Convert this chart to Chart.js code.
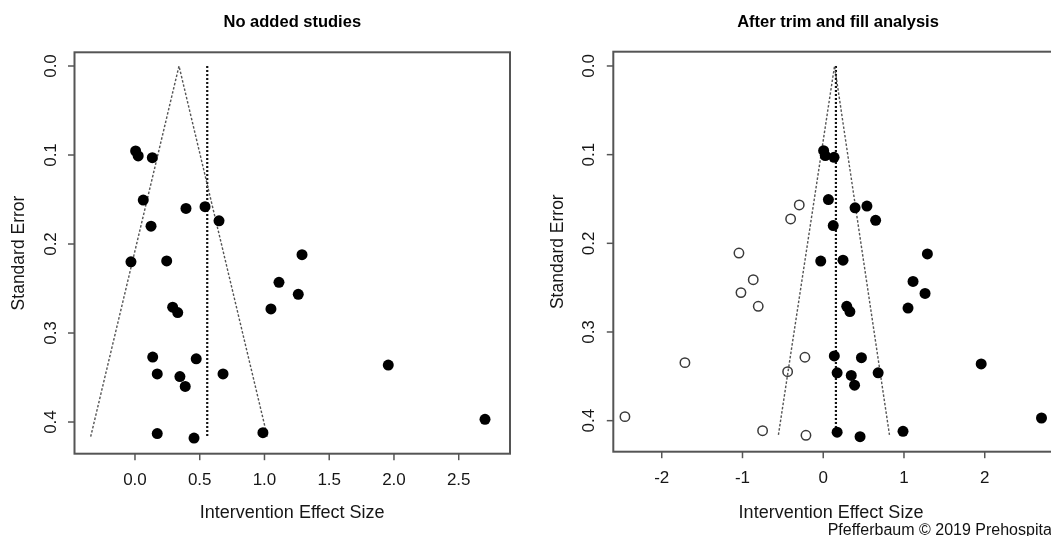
<!DOCTYPE html>
<html>
<head>
<meta charset="utf-8">
<script src="https://cdn.jsdelivr.net/npm/chart.js@4.4.0/dist/chart.umd.min.js"></script>
<style>
html, body { margin: 0; padding: 0; background: #fff; width: 1051px; height: 536px; overflow: hidden; }
#wrapL { position: absolute; left: 0; top: 0; width: 530px; height: 536px; }
#wrapR { position: absolute; left: 530px; top: 0; width: 560px; height: 536px; }
</style>
</head>
<body>
<div id="wrapL"><canvas id="cL"></canvas></div>
<div id="wrapR"><canvas id="cR"></canvas></div>
<script>
// ---- Observed studies (filled circles) ----
const studyEffect = [0.005, 0.025, 0.134, 0.064, 0.394, 0.541, 0.649, 0.124, -0.031, 0.245,
                     1.290, 1.112, 1.261, 1.050, 0.291, 0.330, 0.137, 0.473, 0.172, 0.347,
                     0.388, 0.680, 0.172, 0.456, 0.988, 1.956, 2.703];
const studySE     = [0.0955, 0.101, 0.103, 0.1506, 0.160, 0.158, 0.174, 0.180, 0.220, 0.219,
                     0.212, 0.243, 0.2565, 0.273, 0.271, 0.277, 0.327, 0.329, 0.346, 0.349,
                     0.360, 0.346, 0.413, 0.418, 0.412, 0.336, 0.397];

// ---- Imputed studies from trim and fill (open circles) ----
const imputedEffect = [-0.297, -0.404, -1.044, -0.867, -1.019, -0.805, -1.713, -0.227, -0.441, -2.456, -0.751, -0.214];
const imputedSE     = [0.1567, 0.1725, 0.211, 0.241, 0.2556, 0.271, 0.3346, 0.3285, 0.3447, 0.3955, 0.4113, 0.4165];

// ---- Funnel and reference lines ----
const leftFunnelX   = [-0.342, 0.340, 1.022];
const leftFunnelSE  = [0.4165, 0, 0.4165];
const leftRefX      = [0.558, 0.558];
const leftRefSE     = [0, 0.4165];
const rightFunnelX  = [-0.555, 0.14, 0.82];
const rightFunnelSE = [0.416, 0, 0.416];
const rightRefX     = [0.157, 0.157];
const rightRefSE    = [0, 0.416];

// ---- Ticks and texts ----
const leftXTicks       = [0, 0.5, 1, 1.5, 2, 2.5];
const leftXTickLabels  = ['0.0', '0.5', '1.0', '1.5', '2.0', '2.5'];
const rightXTicks      = [-2, -1, 0, 1, 2];
const rightXTickLabels = ['-2', '-1', '0', '1', '2'];
const seTicks          = [0, 0.1, 0.2, 0.3, 0.4];
const seTickLabels     = ['0.0', '0.1', '0.2', '0.3', '0.4'];
const panelTitles      = ['No added studies', 'After trim and fill analysis'];
const xAxisTitle       = 'Intervention Effect Size';
const yAxisTitle       = 'Standard Error';
const creditText       = 'Pfefferbaum © 2019 Prehospita';

const FONT = "'Liberation Sans', Arial, Helvetica, sans-serif";

function pts(xs, ys) { return xs.map((v, i) => ({ x: v, y: ys[i] })); }

function framePlugin(p) {
  return {
    id: 'frame_' + p.key,
    afterDatasetsDraw(chart) {
      const { ctx, chartArea: a, scales } = chart;
      const xs = scales.x, ys = scales.y;
      ctx.save();
      ctx.setLineDash([]);
      ctx.strokeStyle = '#555';
      ctx.lineWidth = 2;
      ctx.strokeRect(a.left, a.top, a.right - a.left, a.bottom - a.top);

      ctx.lineWidth = 1.5;
      ctx.fillStyle = '#161616';
      ctx.font = '17px ' + FONT;
      ctx.textAlign = 'center';
      ctx.textBaseline = 'alphabetic';
      p.xTicks.forEach((v, i) => {
        const px = xs.getPixelForValue(v);
        ctx.beginPath(); ctx.moveTo(px, a.bottom); ctx.lineTo(px, a.bottom + 6.5); ctx.stroke();
        ctx.fillText(p.xLabels[i], px, a.bottom + 31);
      });
      seTicks.forEach((v, i) => {
        const py = ys.getPixelForValue(v);
        ctx.beginPath(); ctx.moveTo(a.left - 6.5, py); ctx.lineTo(a.left, py); ctx.stroke();
        ctx.save();
        ctx.translate(a.left - 19, py);
        ctx.rotate(-Math.PI / 2);
        ctx.fillText(seTickLabels[i], 0, 0);
        ctx.restore();
      });

      ctx.font = '18px ' + FONT;
      ctx.fillText(xAxisTitle, p.xTitleX, 517.5);
      ctx.save();
      ctx.translate(a.left - 50.5, (a.top + a.bottom) / 2);
      ctx.rotate(-Math.PI / 2);
      ctx.font = '17.5px ' + FONT;
      ctx.fillText(yAxisTitle, 0, 0);
      ctx.restore();

      ctx.font = 'bold 16.5px ' + FONT;
      ctx.fillStyle = '#000';
      ctx.fillText(p.title, p.titleX, 27);

      if (p.credit) {
        ctx.font = '16px ' + FONT;
        ctx.textAlign = 'left';
        ctx.fillStyle = '#111';
        ctx.fillText(p.credit, p.creditX, 534.5);
      }
      ctx.restore();
    }
  };
}

function baseOptions(padding, xMin, xMax, yMin, yMax) {
  return {
    responsive: true,
    maintainAspectRatio: false,
    animation: false,
    events: [],
    layout: { padding: padding },
    plugins: { legend: { display: false }, tooltip: { enabled: false }, title: { display: false } },
    scales: {
      x: { type: 'linear', display: false, min: xMin, max: xMax },
      y: { type: 'linear', display: false, reverse: true, min: yMin, max: yMax }
    }
  };
}

const filledStyle = { pointRadius: 5.5, pointBackgroundColor: '#000', pointBorderWidth: 0, showLine: false };
const funnelStyle = { showLine: true, pointRadius: 0, borderColor: '#555', borderWidth: 1.4, borderDash: [2.5, 1.8], fill: false };
const refStyle    = { showLine: true, pointRadius: 0, borderColor: '#111', borderWidth: 2.2, borderDash: [2, 2], fill: false };

new Chart(document.getElementById('cL'), {
  type: 'scatter',
  data: {
    datasets: [
      Object.assign({ label: 'Studies', data: pts(studyEffect, studySE) }, filledStyle),
      Object.assign({ label: 'Funnel', data: pts(leftFunnelX, leftFunnelSE) }, funnelStyle),
      Object.assign({ label: 'Estimate', data: pts(leftRefX, leftRefSE) }, refStyle)
    ]
  },
  options: baseOptions({ left: 74.5, right: 20, top: 52.3, bottom: 82.3 }, -0.467, 2.896, -0.0154, 0.4356),
  plugins: [framePlugin({ key: 'L', xTicks: leftXTicks, xLabels: leftXTickLabels,
    xTitleX: 292.2, title: panelTitles[0], titleX: 292.3 })]
});

new Chart(document.getElementById('cR'), {
  type: 'scatter',
  data: {
    datasets: [
      Object.assign({ label: 'Studies', data: pts(studyEffect, studySE) }, filledStyle),
      { label: 'Imputed', data: pts(imputedEffect, imputedSE), showLine: false, pointRadius: 4.7,
        pointBackgroundColor: 'rgba(0,0,0,0)', pointBorderColor: '#3a3a3a', pointBorderWidth: 1.5 },
      Object.assign({ label: 'Funnel', data: pts(rightFunnelX, rightFunnelSE) }, funnelStyle),
      Object.assign({ label: 'Estimate', data: pts(rightRefX, rightRefSE) }, refStyle)
    ]
  },
  options: baseOptions({ left: 83.3, right: 32.6, top: 51.7, bottom: 84.3 }, -2.60, 2.90, -0.0161, 0.435),
  plugins: [framePlugin({ key: 'R', xTicks: rightXTicks, xLabels: rightXTickLabels,
    xTitleX: 301, title: panelTitles[1], titleX: 308, credit: creditText, creditX: 297.7 })]
});
</script>
</body>
</html>
